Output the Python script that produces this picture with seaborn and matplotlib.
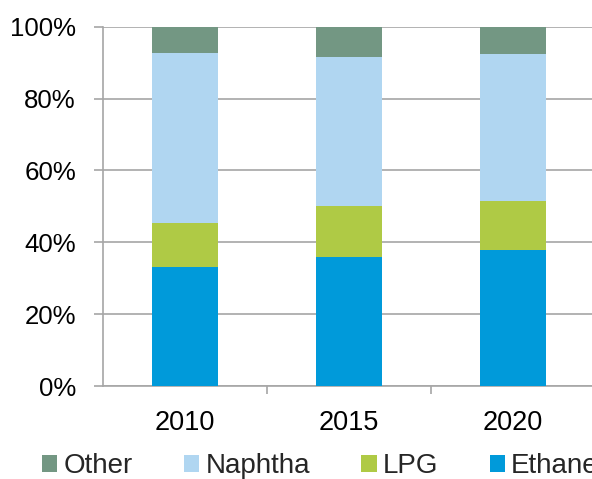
import numpy as np
import pandas as pd
import matplotlib
matplotlib.use("Agg")
import matplotlib.pyplot as plt
import seaborn as sns
from matplotlib.patches import Patch
from matplotlib.ticker import PercentFormatter, FixedLocator

years = ["2010", "2015", "2020"]
ethane = [33.0, 35.8, 37.8]
lpg = [12.4, 14.2, 13.6]
naphtha = [47.2, 41.6, 40.9]
other = [7.4, 8.4, 7.7]

series_names = ["Ethane", "LPG", "Naphtha", "Other"]
series_colors = {"Ethane": "#009ADA", "LPG": "#AFCA45", "Naphtha": "#B0D6F1", "Other": "#739783"}

sns.set_theme(style="white")
plt.rcParams["font.family"] = ["Liberation Sans", "DejaVu Sans"]

fig = plt.figure(figsize=(5.92, 4.79), dpi=100)
W, H = 592, 479
ax = fig.add_axes([103 / W, 1 - 386 / H, (595 - 103) / W, (386 - 26.7) / H])

vals = np.array([ethane, lpg, naphtha, other])
cum = np.cumsum(vals, axis=0)
# draw from top of stack downward so lower segments overlay
for i in reversed(range(len(series_names))):
    df = pd.DataFrame({"year": years, "value": cum[i]})
    sns.barplot(data=df, x="year", y="value", color=series_colors[series_names[i]],
                width=0.4, saturation=1, ax=ax, linewidth=0, zorder=3)

ax.set_ylim(0, 100)
ax.set_xlim(-0.5, 2.5)
ax.set_yticks(np.arange(0, 101, 20))
ax.yaxis.set_major_formatter(PercentFormatter(decimals=0))
ax.yaxis.grid(True, color="#A6A6A6", linewidth=1.2, zorder=0)
ax.set_axisbelow(True)
ax.set_xlabel("")
ax.set_ylabel("")

for s in ["top", "right"]:
    ax.spines[s].set_visible(False)
for s in ["left", "bottom"]:
    ax.spines[s].set_color("#A6A6A6")
    ax.spines[s].set_linewidth(1.2)

ax.tick_params(axis="y", which="major", left=True, length=6.5, width=1.2, color="#A6A6A6",
               labelsize=18.6, pad=13, labelcolor="#000000")
ax.tick_params(axis="x", which="major", bottom=False, labelsize=19.5, pad=11, labelcolor="#000000")
ax.xaxis.set_minor_locator(FixedLocator([0.5, 1.5]))
ax.tick_params(axis="x", which="minor", bottom=True, length=6, width=1.2, color="#A6A6A6")

legend_order = ["Other", "Naphtha", "LPG", "Ethane"]
handles = [Patch(facecolor=series_colors[n], edgecolor="none", label=n) for n in legend_order]
fig.legend(handles=handles, loc="upper left", bbox_to_anchor=(42 / W, 1 - 453 / H), ncol=4,
           frameon=False, fontsize=20, handlelength=0.55, handleheight=0.55,
           handletextpad=0.22, columnspacing=1.85, borderpad=0, borderaxespad=0)

fig.savefig("out.png", dpi=100)
